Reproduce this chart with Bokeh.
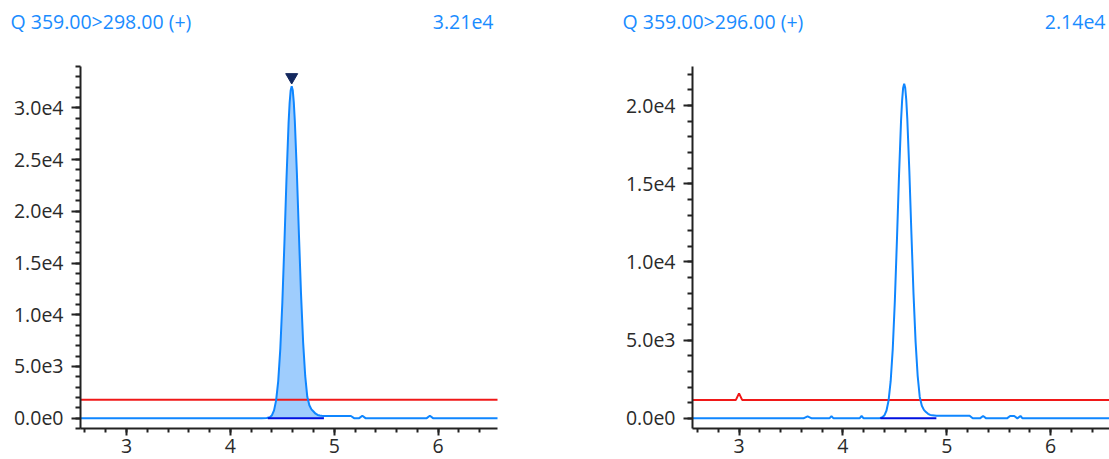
from bokeh.plotting import figure
from bokeh.layouts import row, column
from bokeh.models import Range1d, SingleIntervalTicker, CustomJSTickFormatter
from bokeh.embed import file_html
from bokeh.resources import INLINE
from bokeh.core.properties import value

# ---------------- data ----------------
left_title = "Q 359.00>298.00 (+)"
left_max_label = "3.21e4"
right_title = "Q 359.00>296.00 (+)"
right_max_label = "2.14e4"

left_time = [2.55, 4.30, 4.35, 4.38, 4.40, 4.42, 4.44, 4.46, 4.48, 4.50, 4.52, 4.54,
             4.56, 4.57, 4.58, 4.59, 4.60, 4.61, 4.62, 4.64, 4.66, 4.68, 4.70, 4.72,
             4.74, 4.76, 4.78, 4.80, 4.82, 4.84, 4.86, 4.88, 4.90, 5.16, 5.19, 5.24,
             5.27, 5.30, 5.89, 5.92, 5.95, 6.58]
left_intensity = [0, 0, 20, 100, 290, 750, 1720, 3560, 6650, 11200, 16980, 23190,
                  28560, 30470, 31690, 32100, 31710, 30570, 28760, 23660, 17650, 11940, 7330, 4080,
                  2060, 1250, 850, 640, 430, 310, 250, 230, 220, 210, 0, 0,
                  230, 0, 0, 230, 0, 0]
left_threshold_time = [2.55, 6.58]
left_threshold = [1770, 1770]
left_peak_rt = 4.59
left_peak_height = 32100
left_integration = [4.36, 4.90]

right_time = [2.55, 3.62, 3.66, 3.70, 3.87, 3.89, 3.91, 4.16, 4.18, 4.20, 4.35,
              4.38, 4.40, 4.42, 4.44, 4.46, 4.48, 4.50, 4.52, 4.54, 4.56, 4.57, 4.58,
              4.59, 4.60, 4.61, 4.62, 4.64, 4.66, 4.68, 4.70, 4.72, 4.74, 4.76, 4.78,
              4.80, 4.82, 4.84, 4.86, 4.90, 5.22, 5.25, 5.32, 5.35, 5.38, 5.58, 5.61,
              5.65, 5.68, 5.71, 5.73, 6.58]
right_intensity = [0, 0, 130, 0, 0, 140, 0, 0, 150, 0, 0,
                   70, 195, 500, 1145, 2375, 4430, 7470, 11320, 15460, 19040, 20310, 21130,
                   21400, 21140, 20380, 19170, 15770, 11770, 7960, 4890, 2720, 1370, 800, 540,
                   400, 290, 220, 190, 160, 160, 0, 0, 150, 0, 0, 150,
                   150, 0, 150, 0, 0]
right_threshold_time = [2.55, 2.97, 3.00, 3.03, 6.58]
right_threshold = [1180, 1180, 1600, 1180, 1180]
right_integration = [4.36, 4.90]

# ---------------- style / layout ----------------
TRACE = "#0f86ff"
FILL = "#9fcdfd"
RED = "#f01818"
BASE = "#0010e0"
MARK = "#14285e"
TITLE_C = "#1a8cff"
AX = "#222222"
FONT = "Open Sans"
FS = "19.5px"

W_TOTAL = 1109
H_HEAD = 40
H_MAIN = 419
LEFT_W = 620
RIGHT_W = W_TOTAL - LEFT_W

fmt = CustomJSTickFormatter(code="return tick.toExponential(1).replace('+','');")


def make_panel(width, xr, yr, min_left, min_right, time, inten,
               thr_t, thr_v, integ, fill=False, peak=None):
    p = figure(width=width, height=H_MAIN, x_range=Range1d(*xr), y_range=Range1d(*yr),
               output_backend="svg", toolbar_location=None,
               min_border_left=min_left, min_border_right=min_right, min_border_top=26,
               min_border_bottom=31)
    p.xgrid.visible = False
    p.ygrid.visible = False
    p.outline_line_color = None
    p.background_fill_color = "white"
    p.border_fill_color = "white"

    for ax in (p.xaxis[0], p.yaxis[0]):
        ax.axis_line_color = AX
        ax.axis_line_width = 2
        ax.major_tick_line_color = AX
        ax.minor_tick_line_color = AX
        ax.major_tick_line_width = 2
        ax.minor_tick_line_width = 2
        ax.major_tick_in = 0
        ax.minor_tick_in = 0
        ax.major_label_text_font = FONT
        ax.major_label_text_font_size = FS
        ax.major_label_text_color = "#2a2a2a"
    p.xaxis.ticker = SingleIntervalTicker(interval=1, num_minor_ticks=5)
    p.xaxis.major_tick_out = 7
    p.xaxis.minor_tick_out = 4
    p.xaxis.major_label_standoff = 3
    p.yaxis.ticker = SingleIntervalTicker(interval=5000, num_minor_ticks=5)
    p.yaxis.formatter = fmt
    p.yaxis.major_tick_out = 9
    p.yaxis.minor_tick_out = 5
    p.yaxis.major_label_standoff = 8

    if fill:
        fx = [t for t in time if integ[0] <= t <= integ[1]]
        fy = [v for t, v in zip(time, inten) if integ[0] <= t <= integ[1]]
        p.varea(x=fx, y1=0, y2=fy, fill_color=FILL, fill_alpha=1.0)
    p.line(thr_t, thr_v, line_color=RED, line_width=2)
    p.line(time, inten, line_color=TRACE, line_width=2)
    p.line(integ, [0, 0], line_color=BASE, line_width=2)
    if peak is not None:
        rt, h = peak
        span = yr[1] - yr[0]
        p.scatter([rt], [h + span * 0.025], marker="inverted_triangle", size=12,
                  fill_color=MARK, line_color=MARK)
    return p


# header with the panel titles and maximum intensities
head = figure(width=W_TOTAL, height=H_HEAD, x_range=Range1d(0, W_TOTAL),
              y_range=Range1d(0, H_HEAD), output_backend="svg", toolbar_location=None,
              x_axis_type=None, y_axis_type=None, min_border=0)
head.outline_line_color = None
head.background_fill_color = "white"
head.border_fill_color = "white"
head.xgrid.visible = False
head.ygrid.visible = False
ty = H_HEAD - 21
head.text(x=[10, LEFT_W + 2], y=[ty, ty], text=[left_title, right_title],
          text_font=value(FONT), text_font_size=FS, text_color=TITLE_C,
          text_align="left", text_baseline="middle")
head.text(x=[493, W_TOTAL - 4], y=[ty, ty], text=[left_max_label, right_max_label],
          text_font=value(FONT), text_font_size=FS, text_color=TITLE_C,
          text_align="right", text_baseline="middle")

p1 = make_panel(LEFT_W, (2.557, 6.571), (-1000, 34000), 80, 123,
                left_time, left_intensity, left_threshold_time, left_threshold,
                left_integration, fill=True, peak=(left_peak_rt, left_peak_height))
p2 = make_panel(RIGHT_W, (2.552, 6.567), (-650, 22500), 72, 0,
                right_time, right_intensity, right_threshold_time, right_threshold,
                right_integration)

layout = column(head, row(p1, p2, spacing=0), spacing=0)
open("out.html", "w").write(file_html(layout, INLINE))
